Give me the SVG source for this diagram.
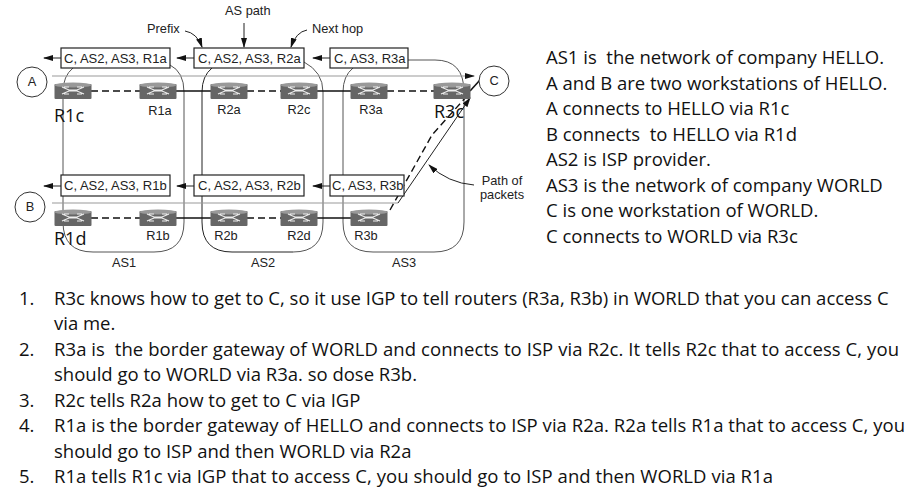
<svg xmlns="http://www.w3.org/2000/svg" width="923" height="503" viewBox="0 0 923 503">
<style>
text{font-family:"Liberation Sans",Arial,sans-serif;fill:#222;white-space:pre}
.d{font-size:12.8px}
.b{font-size:13px}
.c{font-family:"Open Sans","Noto Sans",sans-serif;font-size:18.5px;fill:#111}
.o{font-family:"Open Sans","Noto Sans",sans-serif;font-size:18px;fill:#111}
.box{fill:#fff;stroke:#222;stroke-width:1.2}
.as{fill:none;stroke:#555;stroke-width:1}
.as2{fill:none;stroke:#222;stroke-width:1}
.gp{fill:none;stroke:#999;stroke-width:1}
.k{fill:none;stroke:#222;stroke-width:1}
.sol{stroke:#111;stroke-width:1.6}
.dash{stroke:#111;stroke-width:1.4;stroke-dasharray:7 4;fill:none}
.host{fill:#fff;stroke:#333;stroke-width:1}
</style>
<defs>
<marker id="ah" viewBox="0 0 10 6" refX="9" refY="3" markerWidth="10" markerHeight="6" markerUnits="userSpaceOnUse" orient="auto"><path d="M0 0L10 3L0 6z" fill="#111"/></marker>
<g id="rt">
<rect x="-18.5" y="-7" width="37" height="15" rx="1" fill="#666"/>
<ellipse cx="0" cy="-6" rx="18.5" ry="2.5" fill="#999"/>
<path d="M-11 -4L-4 -1L4 -1L11 -4M-11 3L-4 0L4 0L11 3M-4 -4L-9 -4M4 -4L9 -4M-4 3L-9 3M4 3L9 3" stroke="#eee" stroke-width="1.2" fill="none"/>
</g>
</defs>

<g id="connectors">
<!-- autonomous system outlines -->
<path class="as" d="M73 68Q63 76 63 92V222Q63 252 93 252H154Q184 252 184 222V92Q184 72 170 65"/>
<path class="as2" d="M212 68Q202 76 202 92V222Q202 252 232 252H293"/>
<path class="as" d="M293 252Q323 252 323 222V92Q323 72 304 62"/>
<path class="as" d="M353 68Q343 76 343 92V222Q343 252 373 252H434Q464 252 464 222V92Q464 60 435 60H408"/>
<!-- path of packets -->
<path class="gp" d="M52 76H474" marker-end="url(#ah)"/>
<path class="gp" d="M52 203H398"/>
<path class="k" d="M398 203L470 98" marker-end="url(#ah)"/>
<!-- router links -->
<path class="dash" d="M91 91H140"/><path class="sol" d="M176 91H211"/><path class="dash" d="M247 91H281"/><path class="sol" d="M317 91H351"/><path class="dash" d="M387 91H434"/>
<path class="dash" d="M91 218H140"/><path class="sol" d="M176 218H211"/><path class="dash" d="M247 218H281"/><path class="sol" d="M317 218H351"/>
<path class="dash" d="M390 210L432 135L466 97"/>
<path class="sol" d="M470 91L480 80"/>
<!-- route announcement arrows -->
<path class="k" d="M61 58H44" marker-end="url(#ah)"/><path class="k" d="M194 58H177" marker-end="url(#ah)"/><path class="k" d="M330 58H313" marker-end="url(#ah)"/>
<path class="k" d="M61 186H44" marker-end="url(#ah)"/><path class="k" d="M194 186H177" marker-end="url(#ah)"/><path class="k" d="M330 186H313" marker-end="url(#ah)"/>
<!-- callouts -->
<path class="k" d="M185 31Q197 33 202 47" marker-end="url(#ah)"/>
<path class="k" d="M244 23V47" marker-end="url(#ah)"/>
<path class="k" d="M307 30Q296 32 291 47" marker-end="url(#ah)"/>
<path class="k" d="M474 185Q448 183 429 165" marker-end="url(#ah)"/>
</g>

<g id="box-r1a"><rect class="box" x="61" y="48" width="109" height="20"/><text class="b" x="64" y="63">C, AS2, AS3, R1a</text></g>
<g id="box-r2a"><rect class="box" x="194" y="48" width="110" height="20"/><text class="b" x="198" y="63">C, AS2, AS3, R2a</text></g>
<g id="box-r3a"><rect class="box" x="330" y="48" width="78" height="20"/><text class="b" x="334" y="63">C, AS3, R3a</text></g>
<g id="box-r1b"><rect class="box" x="61" y="175" width="109" height="21"/><text class="b" x="64" y="190">C, AS2, AS3, R1b</text></g>
<g id="box-r2b"><rect class="box" x="194" y="175" width="110" height="21"/><text class="b" x="198" y="190">C, AS2, AS3, R2b</text></g>
<g id="box-r3b"><rect class="box" x="330" y="175" width="74" height="21"/><text class="b" x="332" y="190">C, AS3, R3b</text></g>

<g id="host-a"><circle class="host" cx="32" cy="82" r="15"/><text class="d" x="32" y="86" text-anchor="middle">A</text></g>
<g id="host-b"><circle class="host" cx="30" cy="207" r="15"/><text class="d" x="30" y="211" text-anchor="middle">B</text></g>
<g id="host-c"><circle class="host" cx="494" cy="81" r="15"/><text class="d" x="494" y="85" text-anchor="middle">C</text></g>

<g id="r1c"><use href="#rt" x="73" y="91"/><text class="o" x="54" y="122">R1c</text></g>
<g id="r1a"><use href="#rt" x="158" y="91"/><text class="d" x="160" y="115" text-anchor="middle">R1a</text></g>
<g id="r2a"><use href="#rt" x="229" y="91"/><text class="d" x="229" y="114" text-anchor="middle">R2a</text></g>
<g id="r2c"><use href="#rt" x="299" y="91"/><text class="d" x="299" y="114" text-anchor="middle">R2c</text></g>
<g id="r3a"><use href="#rt" x="369" y="91"/><text class="d" x="371" y="114" text-anchor="middle">R3a</text></g>
<g id="r3c"><use href="#rt" x="452" y="91"/><text class="o" x="434" y="118">R3c</text></g>
<g id="r1d"><use href="#rt" x="73" y="218"/><text class="o" x="54" y="245">R1d</text></g>
<g id="r1b"><use href="#rt" x="158" y="218"/><text class="d" x="158" y="240" text-anchor="middle">R1b</text></g>
<g id="r2b"><use href="#rt" x="229" y="218"/><text class="d" x="226" y="240" text-anchor="middle">R2b</text></g>
<g id="r2d"><use href="#rt" x="299" y="218"/><text class="d" x="299" y="240" text-anchor="middle">R2d</text></g>
<g id="r3b"><use href="#rt" x="369" y="218"/><text class="d" x="366" y="240" text-anchor="middle">R3b</text></g>

<g id="labels">
<text class="d" x="147" y="33">Prefix</text>
<text class="d" x="225" y="15">AS path</text>
<text class="d" x="312" y="33">Next hop</text>
<text class="d" x="502" y="185" text-anchor="middle">Path of</text>
<text class="d" x="502" y="199" text-anchor="middle">packets</text>
<text class="d" x="124" y="267" text-anchor="middle">AS1</text>
<text class="d" x="263" y="267" text-anchor="middle">AS2</text>
<text class="d" x="404" y="267" text-anchor="middle">AS3</text>
</g>

<g id="notes">
<text class="c" x="546" y="64">AS1 is  the network of company HELLO.</text>
<text class="c" x="546" y="90">A and B are two workstations of HELLO.</text>
<text class="c" x="546" y="115">A connects to HELLO via R1c</text>
<text class="c" x="546" y="141">B connects  to HELLO via R1d</text>
<text class="c" x="546" y="166">AS2 is ISP provider.</text>
<text class="c" x="546" y="192">AS3 is the network of company WORLD</text>
<text class="c" x="546" y="217">C is one workstation of WORLD.</text>
<text class="c" x="546" y="243">C connects to WORLD via R3c</text>
</g>

<g id="steps">
<text class="c" x="19" y="305">1.</text><text class="c" x="54" y="305">R3c knows how to get to C, so it use IGP to tell routers (R3a, R3b) in WORLD that you can access C</text>
<text class="c" x="54" y="330">via me.</text>
<text class="c" x="19" y="356">2.</text><text class="c" x="54" y="356" textLength="845">R3a is  the border gateway of WORLD and connects to ISP via R2c. It tells R2c that to access C, you</text>
<text class="c" x="54" y="381">should go to WORLD via R3a. so dose R3b.</text>
<text class="c" x="19" y="407">3.</text><text class="c" x="54" y="407">R2c tells R2a how to get to C via IGP</text>
<text class="c" x="19" y="432">4.</text><text class="c" x="54" y="432" textLength="851">R1a is the border gateway of HELLO and connects to ISP via R2a. R2a tells R1a that to access C, you</text>
<text class="c" x="54" y="458">should go to ISP and then WORLD via R2a</text>
<text class="c" x="19" y="483">5.</text><text class="c" x="54" y="483" textLength="719">R1a tells R1c via IGP that to access C, you should go to ISP and then WORLD via R1a</text>
</g>
</svg>
